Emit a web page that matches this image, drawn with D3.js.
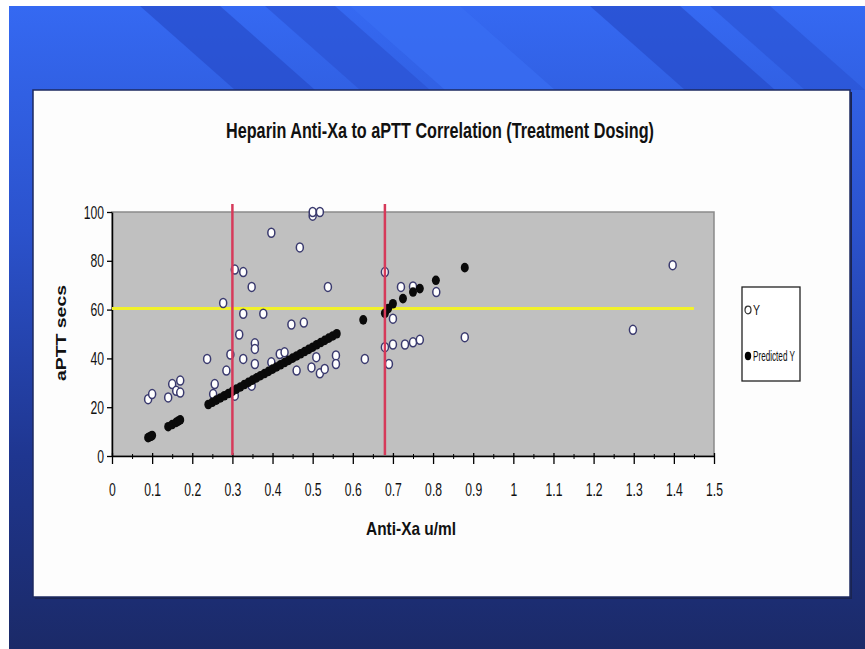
<!DOCTYPE html>
<html>
<head>
<meta charset="utf-8">
<script src="https://cdnjs.cloudflare.com/ajax/libs/d3/7.8.5/d3.min.js"></script>
<style>
  html, body { margin: 0; padding: 0; background: #fff; }
  svg { display: block; }
  .narrow { font-family: 'Liberation Sans Narrow', 'Arial Narrow', 'Liberation Sans', Arial, sans-serif; }
</style>
</head>
<body>
<div id="chart"></div>
<script>
// Datos
const title = 'Heparin Anti-Xa to aPTT Correlation (Treatment Dosing)'
const xTitle = 'Anti-Xa u/ml'
const yTitle = 'aPTT secs'

const xTickValues = [0, 0.1, 0.2, 0.3, 0.4, 0.5, 0.6, 0.7, 0.8, 0.9, 1, 1.1, 1.2, 1.3, 1.4, 1.5]
const xTickLabels = ['0', '0.1', '0.2', '0.3', '0.4', '0.5', '0.6', '0.7', '0.8', '0.9', '1', '1.1', '1.2', '1.3', '1.4', '1.5']
const yTickValues = [0, 20, 40, 60, 80, 100]

const legendLabels = ['Y', 'Predicted Y']

// Serie Y (circulos vacios)
const obsX = [0.09, 0.10, 0.14, 0.15, 0.17, 0.16, 0.17,
  0.237, 0.252, 0.256, 0.277, 0.285, 0.295, 0.306, 0.306, 0.317, 0.327, 0.327, 0.327,
  0.348, 0.348, 0.356, 0.356, 0.356, 0.377, 0.397, 0.397, 0.418, 0.43, 0.447, 0.46,
  0.468, 0.478, 0.497, 0.50, 0.50, 0.509, 0.518, 0.518, 0.53, 0.538, 0.558, 0.558,
  0.63, 0.68, 0.68, 0.69, 0.70, 0.70, 0.72, 0.73, 0.75, 0.75, 0.767, 0.808, 0.879,
  1.298, 1.397]
const obsY = [23.3, 25.4, 24, 29.5, 30.9, 26.7, 26,
  39.8, 25.4, 29.5, 62.7, 35, 41.6, 76.4, 24.7, 49.8, 75.4, 58.3, 39.8,
  69.3, 28.8, 46.2, 43.9, 37.7, 58.3, 91.5, 38.4, 41.8, 42.5, 53.9, 35,
  85.5, 54.7, 36.3, 98.5, 100, 40.5, 100, 33.9, 35.7, 69.3, 41.2, 37.7,
  39.8, 75.4, 44.6, 37.7, 56.3, 45.7, 69.3, 45.7, 69.5, 46.6, 47.6, 67.2, 48.7,
  51.7, 78.2]

// Serie Predicted Y (puntos negros)
const predX = [0.09, 0.093, 0.097, 0.10, 0.14, 0.15, 0.16, 0.165, 0.17,
  0.24, 0.25, 0.26, 0.27, 0.28, 0.29, 0.30, 0.31, 0.32, 0.33, 0.34, 0.35, 0.36, 0.37,
  0.38, 0.39, 0.40, 0.41, 0.42, 0.43, 0.44, 0.45, 0.46, 0.47, 0.48, 0.49, 0.50, 0.51,
  0.52, 0.53, 0.54, 0.55, 0.56, 0.626, 0.68, 0.688, 0.70, 0.725, 0.75, 0.767, 0.807, 0.879]
const predY = [7.5, 7.8, 8.1, 8.4, 12.0, 12.9, 13.8, 14.3, 14.8,
  21.1, 22.0, 22.9, 23.8, 24.7, 25.6, 26.5, 27.4, 28.3, 29.3, 30.2, 31.1, 32.0, 32.9,
  33.8, 34.7, 35.6, 36.5, 37.4, 38.3, 39.2, 40.1, 41.0, 41.9, 42.8, 43.7, 44.6, 45.6,
  46.5, 47.4, 48.3, 49.2, 50.1, 55.8, 58.5, 60.4, 62.4, 64.5, 67.2, 68.6, 72.0, 77.2]

// Lineas de referencia
const refX = [0.3, 0.68]
const refY = 60.5
const refYEnd = 1.45

const width = 865
const height = 649
const plot = { left: 112, right: 714, top: 212, bottom: 456 }
const squeeze = 0.64 // para simular la fuente angosta

const svg = d3.select('#chart').append('svg')
  .attr('width', width)
  .attr('height', height)

// Fondo de la diapositiva
const defs = svg.append('defs')
const grad = defs.append('linearGradient')
  .attr('id', 'bg').attr('x1', 0).attr('y1', 0).attr('x2', 0).attr('y2', 1)
grad.append('stop').attr('offset', '0%').attr('stop-color', '#3569f2')
grad.append('stop').attr('offset', '35%').attr('stop-color', '#2b52cc')
grad.append('stop').attr('offset', '70%').attr('stop-color', '#1f3690')
grad.append('stop').attr('offset', '100%').attr('stop-color', '#1b2a68')

svg.append('rect')
  .attr('x', 9).attr('y', 6)
  .attr('width', width - 9).attr('height', height - 6)
  .attr('fill', 'url(#bg)')

// franjas diagonales de arriba
const stripes = [
  { x: 140, w: 80, c: '#2548c4' },
  { x: 265, w: 70, c: '#2950d0' },
  { x: 350, w: 110, c: '#3a70f5' },
  { x: 590, w: 90, c: '#2548c4' },
  { x: 710, w: 60, c: '#2a52d2' }
]
svg.append('g').selectAll('path')
  .data(stripes)
  .join('path')
  .attr('d', d => `M${d.x},6 L${d.x + d.w},6 L${d.x + d.w + 95},90 L${d.x + 95},90 Z`)
  .attr('fill', d => d.c)
  .attr('opacity', 0.6)

// Caja blanca del grafico
svg.append('rect')
  .attr('x', 35).attr('y', 92)
  .attr('width', 817).attr('height', 507)
  .attr('fill', '#1a2450')
svg.append('rect')
  .attr('x', 33).attr('y', 90)
  .attr('width', 817).attr('height', 507)
  .attr('fill', '#fdfdfd')
  .attr('stroke', '#1c2a60')
  .attr('stroke-width', 1.5)

// Escalas
const x = d3.scaleLinear().domain([0, 1.5]).range([plot.left, plot.right])
const y = d3.scaleLinear().domain([0, 100]).range([plot.bottom, plot.top])

// Area gris
svg.append('rect')
  .attr('x', plot.left).attr('y', plot.top)
  .attr('width', plot.right - plot.left).attr('height', plot.bottom - plot.top)
  .attr('fill', '#c0c0c0')
  .attr('stroke', '#8a8a8a')
  .attr('stroke-width', 1.5)

// Titulo
svg.append('text')
  .attr('class', 'narrow')
  .attr('x', 440).attr('y', 138)
  .attr('text-anchor', 'middle')
  .attr('font-size', 22)
  .attr('font-weight', 'bold')
  .attr('fill', '#111')
  .attr('textLength', 428)
  .attr('lengthAdjust', 'spacingAndGlyphs')
  .text(title)

// Eje X
const xAxis = svg.append('g')
  .attr('transform', `translate(0,${plot.bottom})`)
  .call(d3.axisBottom(x)
    .tickValues(xTickValues)
    .tickFormat((d, i) => xTickLabels[i])
    .tickSizeInner(8)
    .tickSizeOuter(0)
    .tickPadding(19))
xAxis.select('.domain').attr('stroke', '#000').attr('stroke-width', 1.5)
xAxis.selectAll('.tick line').attr('stroke', '#000').attr('stroke-width', 1.3).attr('y1', -3)
xAxis.selectAll('.tick text')
  .attr('class', 'narrow')
  .attr('font-size', 19)
  .attr('fill', '#111')
  .attr('transform', `scale(${squeeze},1)`)

// marcas menores
const minor = xTickValues.slice(0, -1).map(v => +(v + 0.05).toFixed(2))
svg.append('g')
  .attr('transform', `translate(0,${plot.bottom})`)
  .call(d3.axisBottom(x).tickValues(minor).tickFormat('').tickSizeInner(3).tickSizeOuter(0))
  .call(g => g.select('.domain').remove())
  .selectAll('.tick line').attr('stroke', '#000').attr('y1', -2)

// Eje Y
const yAxis = svg.append('g')
  .attr('transform', `translate(${plot.left},0)`)
  .call(d3.axisLeft(y)
    .tickValues(yTickValues)
    .tickSizeInner(5)
    .tickSizeOuter(0)
    .tickPadding(5))
yAxis.select('.domain').attr('stroke', '#000').attr('stroke-width', 1.5)
yAxis.selectAll('.tick line').attr('stroke', '#000').attr('stroke-width', 1.3)
yAxis.selectAll('.tick text')
  .attr('class', 'narrow')
  .attr('font-size', 19)
  .attr('fill', '#111')
  .attr('x', -8 / squeeze)
  .attr('transform', `scale(${squeeze},1)`)

// Titulos de ejes
svg.append('text')
  .attr('class', 'narrow')
  .attr('x', 411).attr('y', 535)
  .attr('text-anchor', 'middle')
  .attr('font-size', 19)
  .attr('font-weight', 'bold')
  .attr('fill', '#111')
  .attr('textLength', 90)
  .attr('lengthAdjust', 'spacingAndGlyphs')
  .text(xTitle)

svg.append('text')
  .attr('transform', 'translate(66,333) rotate(-90)')
  .attr('text-anchor', 'middle')
  .attr('font-family', 'Liberation Sans, Arial, sans-serif')
  .attr('font-size', 14)
  .attr('font-weight', 'bold')
  .attr('fill', '#111')
  .attr('textLength', 96)
  .attr('lengthAdjust', 'spacingAndGlyphs')
  .text(yTitle)

// Linea amarilla
svg.append('line')
  .attr('x1', x(0)).attr('x2', x(refYEnd))
  .attr('y1', y(refY)).attr('y2', y(refY))
  .attr('stroke', '#f2f22a')
  .attr('stroke-width', 3)

// Puntos Y
const obs = obsX.map((v, i) => ({ x: v, y: obsY[i] }))
svg.append('g').selectAll('ellipse')
  .data(obs)
  .join('ellipse')
  .attr('cx', d => x(d.x))
  .attr('cy', d => y(d.y))
  .attr('rx', 3.5)
  .attr('ry', 4.5)
  .attr('fill', '#ffffff')
  .attr('stroke', '#3a3a6e')
  .attr('stroke-width', 1.5)

// Puntos Predicted Y
const pred = predX.map((v, i) => ({ x: v, y: predY[i] }))
svg.append('g').selectAll('ellipse')
  .data(pred)
  .join('ellipse')
  .attr('cx', d => x(d.x))
  .attr('cy', d => y(d.y))
  .attr('rx', 4)
  .attr('ry', 4.8)
  .attr('fill', '#0a0a0a')

// Lineas rojas verticales
svg.append('g').selectAll('line')
  .data(refX)
  .join('line')
  .attr('x1', d => x(d)).attr('x2', d => x(d))
  .attr('y1', plot.top - 8).attr('y2', plot.bottom - 1)
  .attr('stroke', '#d63a5a')
  .attr('stroke-width', 2.5)

// Leyenda
const legend = svg.append('g').attr('transform', 'translate(742,287)')
legend.append('rect')
  .attr('width', 58).attr('height', 94)
  .attr('fill', '#fff')
  .attr('stroke', '#222')
  .attr('stroke-width', 1.3)

const items = legend.selectAll('g')
  .data(legendLabels)
  .join('g')
  .attr('transform', (d, i) => `translate(0,${23 + i * 46})`)

items.append('ellipse')
  .attr('cx', 6).attr('cy', 0)
  .attr('rx', (d, i) => i == 0 ? 3 : 3.2)
  .attr('ry', (d, i) => i == 0 ? 3.8 : 4.2)
  .attr('fill', (d, i) => i == 0 ? '#fff' : '#000')
  .attr('stroke', (d, i) => i == 0 ? '#333' : 'none')
  .attr('stroke-width', 1.2)

items.append('text')
  .attr('class', 'narrow')
  .attr('x', 11).attr('y', 0)
  .attr('dy', '0.35em')
  .attr('font-size', 15)
  .attr('fill', '#111')
  .attr('textLength', (d, i) => i == 0 ? 7 : 42)
  .attr('lengthAdjust', 'spacingAndGlyphs')
  .text(d => d)
</script>
</body>
</html>
